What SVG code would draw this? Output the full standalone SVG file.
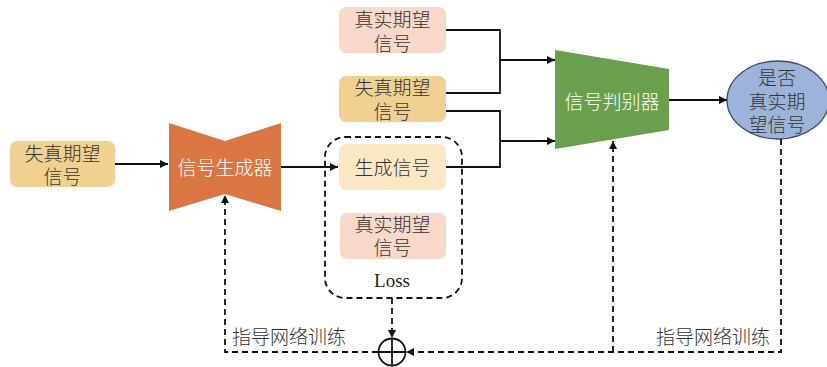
<svg xmlns="http://www.w3.org/2000/svg" width="827" height="367" viewBox="0 0 827 367">
<defs>
<style>
.t{font-family:"Noto Sans CJK SC","Noto Sans",sans-serif;font-size:19px;fill:#333;text-anchor:middle;font-weight:300}
.w{fill:#fff}
.ln{fill:none;stroke:#111;stroke-width:1.8}
.dl{fill:none;stroke:#111;stroke-width:1.8;stroke-dasharray:6 4}
</style>
<marker id="ah" viewBox="0 0 10 10" refX="10" refY="5" markerWidth="9" markerHeight="8" markerUnits="userSpaceOnUse" orient="auto">
<path d="M0,0 L10,5 L0,10 z" fill="#111"/>
</marker>
</defs>
<g id="n-input">
<rect x="10" y="141" width="105" height="46" rx="7" fill="#F0D192"/>
<text class="t" x="62.5" y="161">失真期望</text>
<text class="t" x="62.5" y="184">信号</text>
</g>
<g id="n-generator">
<path d="M169,123 L225,141 L281,123 L281,211 L225,194 L169,211 z" fill="#D97641"/>
<text class="t w" x="225" y="175" font-size="20">信号生成器</text>
</g>
<g id="n-real-top">
<rect x="339" y="7" width="107" height="46" rx="7" fill="#F7D8CB"/>
<text class="t" x="392.5" y="27">真实期望</text>
<text class="t" x="392.5" y="51">信号</text>
</g>
<g id="n-distort-mid">
<rect x="339" y="76" width="107" height="46" rx="7" fill="#F0D192"/>
<text class="t" x="392.5" y="95">失真期望</text>
<text class="t" x="392.5" y="119">信号</text>
</g>
<g id="n-loss">
<rect x="325" y="137" width="137" height="161" rx="20" class="dl"/>
<rect x="339" y="144" width="107" height="46" rx="7" fill="#FAE7C4"/>
<text class="t" x="392.5" y="175">生成信号</text>
<rect x="340" y="213" width="106" height="46" rx="7" fill="#F7D8CB"/>
<text class="t" x="392.5" y="232">真实期望</text>
<text class="t" x="392.5" y="255">信号</text>
<text x="392" y="287" font-family="Liberation Serif,serif" font-size="19" fill="#222" text-anchor="middle">Loss</text>
</g>
<g id="n-discriminator">
<path d="M555,50 L669,69 L669,130 L555,149 z" fill="#6A9F4E"/>
<text class="t w" x="612" y="109">信号判别器</text>
</g>
<g id="n-output">
<ellipse cx="778" cy="100" rx="51" ry="39" fill="#9DB3D9" stroke="#3B4A6B" stroke-width="1.3"/>
<text class="t" x="777" y="85">是否</text>
<text class="t" x="777" y="109">真实期</text>
<text class="t" x="777" y="132">望信号</text>
</g>
<g id="n-sum">
<circle cx="392" cy="352" r="13.5" fill="#fff" stroke="#111" stroke-width="1.8"/>
<path d="M378.5,352 H405.5 M392,338.5 V365.5" class="ln"/>
</g>
<g id="connectors">
<path class="ln" d="M115,164 H168" marker-end="url(#ah)"/>
<path class="ln" d="M281,167 H338" marker-end="url(#ah)"/>
<path class="ln" d="M446,30 H500 V93 H446"/>
<path class="ln" d="M500,60 H555" marker-end="url(#ah)"/>
<path class="ln" d="M446,111 H500 V167 H446"/>
<path class="ln" d="M500,141 H555" marker-end="url(#ah)"/>
<path class="ln" d="M669,100 H727" marker-end="url(#ah)"/>
<path class="dl" d="M392,298 V338" marker-end="url(#ah)"/>
<path class="dl" d="M781,139 V352 H406" marker-end="url(#ah)"/>
<path class="dl" d="M613,352 V141" marker-end="url(#ah)"/>
<path class="dl" d="M378,352 H225 V195" marker-end="url(#ah)"/>
<text class="t" x="289" y="344">指导网络训练</text>
<text class="t" x="713" y="344">指导网络训练</text>
</g>
</svg>
